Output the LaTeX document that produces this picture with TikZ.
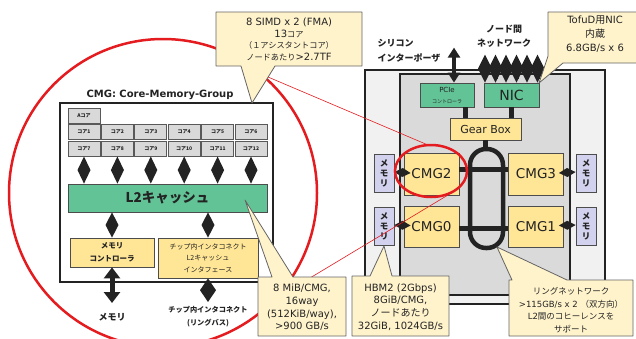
\documentclass[tikz,border=0pt]{standalone}
\usepackage{fontspec}
\setmainfont{DejaVu Sans}
\newfontfamily\jp{Noto Sans CJK JP}
\usetikzlibrary{arrows.meta,calc}
\newcommand\J[1]{{\jp #1}}
\newcommand\Js[1]{{\jp\fontsize{8.2}{11.7}\selectfont #1}}
\definecolor{zoomred}{RGB}{228,28,32}
\definecolor{notefill}{RGB}{255,243,204}
\definecolor{noteline}{RGB}{100,100,100}
\definecolor{cmgyellow}{RGB}{255,229,150}
\definecolor{l2green}{RGB}{98,195,150}
\definecolor{coregray}{RGB}{217,217,217}
\definecolor{memlilac}{RGB}{210,210,238}
\definecolor{chipgray}{RGB}{241,241,241}
\definecolor{diegray}{RGB}{218,218,218}
\definecolor{ink}{RGB}{35,35,35}
\tikzset{
	frame/.style = {draw = ink, line width = 2.5pt, fill = white, inner sep = 0pt},
	core/.style = {draw = black!65, fill = coregray, line width = 1pt, minimum width = 32pt, minimum height = 15pt, inner sep = 0pt, text = ink, font = {\jp\bfseries\fontsize{5}{6}\selectfont}},
	ybox/.style = {draw = black!70, fill = cmgyellow, line width = 0.8pt, inner sep = 0pt, align = center, text = ink},
	gbox/.style = {draw = black!70, fill = l2green, line width = 0.8pt, inner sep = 0pt, align = center, text = ink},
	membox/.style = {draw = black!70, fill = memlilac, line width = 0.8pt, minimum width = 20pt, minimum height = 38pt, inner sep = 0pt, align = center, text = ink, font = {\jp\bfseries\fontsize{8.5}{10}\selectfont}},
	% double headed link drawn as a kite between two points
	kite/.style = {fill = ink, to path = {-- ($(\tikztostart)!.5!(\tikztotarget)!#1!90:(\tikztotarget)$) -- (\tikztotarget) -- ($(\tikztostart)!.5!(\tikztotarget)!#1!-90:(\tikztotarget)$) -- cycle}},
	kite/.default = 6.5pt,
	bigarrow/.style = {draw = ink, line width = 5pt, {Triangle[length = 11pt, width = 16pt]}-{Triangle[length = 11pt, width = 16pt]}},
	pciearrow/.style = {draw = ink, line width = 3.5pt, {Triangle[length = 10pt, width = 12pt]}-{Triangle[length = 10pt, width = 12pt]}},
	bus/.style = {draw = ink, line width = 5pt},
	note/.style = {draw = noteline, fill = notefill, line width = 0.8pt, line join = round},
	notetext/.style = {align = center, inner sep = 0pt, text = ink},
	zoom/.style = {draw = zoomred, line width = 2.5pt},
	zoomline/.style = {draw = zoomred, line width = 0.6pt}
}
\begin{document}
\begin{tikzpicture} [x = 1pt, y = -1pt]
	\useasboundingbox (0,0) rectangle (636,338);
	\fill [white] (0,0) rectangle (636,338);
	% zoom circle
	\draw [zoom] (163,193) circle [radius = 154];
	% CMG block
	\node [frame, minimum width = 213pt, minimum height = 179pt] (cmg) at (166.5,192.5) {};
	\node [text = ink, font = \bfseries\fontsize{10}{12}\selectfont] (cmgtitle) at (160,95) {CMG: Core-Memory-Group};
	\node [core] (ac) at (84,115.5) {Aコア};
	\foreach \i in {1,...,6} {
		\pgfmathtruncatemacro\j{\i+6}
		\node [core] (c\i) at ({84+33.4*(\i-1)},131.5) {コア\i};
		\node [core] (c\j) at ({84+33.4*(\i-1)},148.5) {コア\j};
	}
	\node [gbox, minimum width = 199pt, minimum height = 28pt, font = {\jp\bfseries\fontsize{13.5}{14}\selectfont}] (l2) at (167.5,198) {L2キャッシュ};
	\foreach \i in {7,...,12}
		\path [kite] (c\i.south) to (c\i.south |- l2.north);
	\node [ybox, minimum width = 84pt, minimum height = 29pt, font = {\jp\bfseries\fontsize{7.5}{13}\selectfont}] (mc) at (112,252.5) {メモリ\\コントローラ};
	\node [ybox, minimum width = 100pt, minimum height = 40pt, font = {\jp\fontsize{7}{11.5}\selectfont}] (icif) at (208,258) {チップ内インタコネクト\\L2キャッシュ\\インタフェース};
	\path [kite] (mc.north |- l2.south) to (mc.north);
	\path [kite] (icif.north |- l2.south) to (icif.north);
	\coordinate (memend) at (112,303);
	\coordinate (ringbusend) at (208,302);
	\draw [bigarrow] (mc.south) -- (memend);
	\path [kite = 8pt] (icif.south) to (ringbusend);
	\node [text = ink, font = {\jp\bfseries\fontsize{9}{11}\selectfont}] (memlbl) at (112,317) {メモリ};
	\node [align = center, text = ink, font = {\jp\bfseries\fontsize{7.2}{12.5}\selectfont}] (ringbuslbl) at (208,316.5) {チップ内インタコネクト\\(リングバス)};
	% chip
	\draw [line width = 2.5pt, draw = ink, fill = chipgray] (365,70) rectangle (605,304);
	\draw [line width = 2pt, draw = ink, fill = diegray] (400,74) rectangle (570,295);
	\node [align = left, anchor = west, text = ink, font = {\jp\bfseries\fontsize{9}{15}\selectfont}] (interposer) at (374,50.5) {シリコン\\インターポーザ};
	\node [align = center, text = ink, font = {\jp\bfseries\fontsize{9}{14}\selectfont}] (netlbl) at (504,36) {ノード間\\ネットワーク};
	\node [gbox, minimum width = 54pt, minimum height = 24pt] (pcie) at (447,95) {\fontsize{7}{8}\selectfont PCIe\\[-1pt]\jp\fontsize{5}{6}\selectfont コントローラ};
	\node [gbox, minimum width = 55pt, minimum height = 24pt, font = \fontsize{14}{16}\selectfont] (nic) at (511.5,95) {NIC};
	\node [ybox, minimum width = 71pt, minimum height = 22pt, font = \fontsize{11}{13}\selectfont] (gear) at (485.5,129) {Gear Box};
	\draw [pciearrow] ([xshift = 7pt]pcie.north) -- ++(0,-35);
	\foreach \dx in {-26.5,-16,-5.5,5,15.5,26} {
		\path [kite = 7pt] ([xshift = \dx pt]nic.north) to ++(0,-28);
		\draw [ink, line width = 4pt] ([xshift = \dx pt, yshift = 4pt]nic.north) -- ++(0,-20);
	}
	\draw [bus] ([xshift = 18pt]pcie.south) -- ([xshift = 18pt]pcie.south |- gear.north);
	\draw [bus] (nic.south) -- (nic.south |- gear.north);
	\node [draw = ink, line width = 4.5pt, rounded corners = 16pt, minimum width = 33pt, minimum height = 99pt, inner sep = 0pt] (ring) at (486.5,198.5) {};
	\draw [bus] (gear.south) -- (gear.south |- ring.north);
	\node [ybox, minimum width = 55pt, minimum height = 42pt, font = \fontsize{13.5}{15}\selectfont] (cmg2) at (431.5,174) {CMG2};
	\node [ybox, minimum width = 55pt, minimum height = 42pt, font = \fontsize{13.5}{15}\selectfont] (cmg3) at (536,174) {CMG3};
	\node [ybox, minimum width = 55pt, minimum height = 41pt, font = \fontsize{13.5}{15}\selectfont] (cmg0) at (431.5,226.5) {CMG0};
	\node [ybox, minimum width = 55pt, minimum height = 41pt, font = \fontsize{13.5}{15}\selectfont] (cmg1) at (536,226.5) {CMG1};
	\draw [bus] ([yshift = 5pt]cmg2.east) -- ([yshift = 5pt]cmg2.east -| cmg3.west);
	\draw [bus] ([yshift = -1.5pt]cmg0.east) -- ([yshift = -1.5pt]cmg0.east -| cmg1.west);
	\node [membox] (m2) at (384,173) {メ\\モ\\リ};
	\node [membox] (m0) at (384,226) {メ\\モ\\リ};
	\node [membox] (m3) at (586,173) {メ\\モ\\リ};
	\node [membox] (m1) at (586,226) {メ\\モ\\リ};
	\path [kite = 4.5pt] ([yshift = 1pt]m2.east) to ([xshift = 7pt, yshift = 1pt]cmg2.west);
	\path [kite = 4.5pt] ([yshift = 1pt]m0.east) to ([xshift = 7pt, yshift = 1pt]cmg0.west);
	\path [kite = 4.5pt] ([xshift = -5pt, yshift = 1pt]cmg3.east) to ([yshift = 1pt]m3.west);
	\path [kite = 4.5pt] ([xshift = -5pt, yshift = 1pt]cmg1.east) to ([yshift = 1pt]m1.west);
	% zoom lines
	\draw [zoom] (431,171) ellipse [x radius = 36, y radius = 26];
	\draw [zoomline] (268,77) -- (428,145);
	\draw [zoomline] (300,284) -- (448,195);
	% callouts
	\draw [note] (216,12) -- (362,12) -- (362,66) -- (275,66) -- (252,103) -- (241,66) -- (216,66) -- cycle;
	\node [notetext, font = \fontsize{10}{11.7}\selectfont] (simdnote) at (289,39.5) {8 SIMD x 2 (FMA)\\13\Js{コア}\\\Js{（１アシスタントコア）}\\\Js{ノードあたり}>2.7TF};
	\draw [note] (258,277) -- (272,277) -- (245,200) -- (293,277) -- (346,277) -- (346,336) -- (258,336) -- cycle;
	\node [notetext, font = \fontsize{10}{12.7}\selectfont] (l2note) at (302,307.5) {8 MiB/CMG,\\16way\\(512KiB/way),\\>900 GB/s};
	\draw [note] (352,276) -- (370,276) -- (384,246) -- (392,276) -- (449,276) -- (449,336) -- (352,336) -- cycle;
	\node [notetext, font = \fontsize{10}{12.7}\selectfont] (hbmnote) at (400.5,307) {HBM2 (2Gbps)\\8GiB/CMG,\\\J{ノードあたり}\\32GiB, 1024GB/s};
	\draw [note] (509,280) -- (512,280) -- (497,247) -- (567,280) -- (633,280) -- (633,336) -- (509,336) -- cycle;
	\node [notetext, font = \fontsize{8.5}{12.6}\selectfont] (ringnote) at (571,310) {\J{リングネットワーク}\\>115GB/s x 2 \J{（双方向）}\\L2\J{間のコヒーレンスを}\\\J{サポート}};
	\draw [note] (548,12) -- (640,12) -- (640,63) -- (563,63) -- (539,83) -- (548,56) -- cycle;
	\node [notetext, font = \fontsize{10}{14}\selectfont] (nicnote) at (595,34) {TofuD\J{用}NIC\\\J{内蔵}\\6.8GB/s x 6};
\end{tikzpicture}
\end{document}
